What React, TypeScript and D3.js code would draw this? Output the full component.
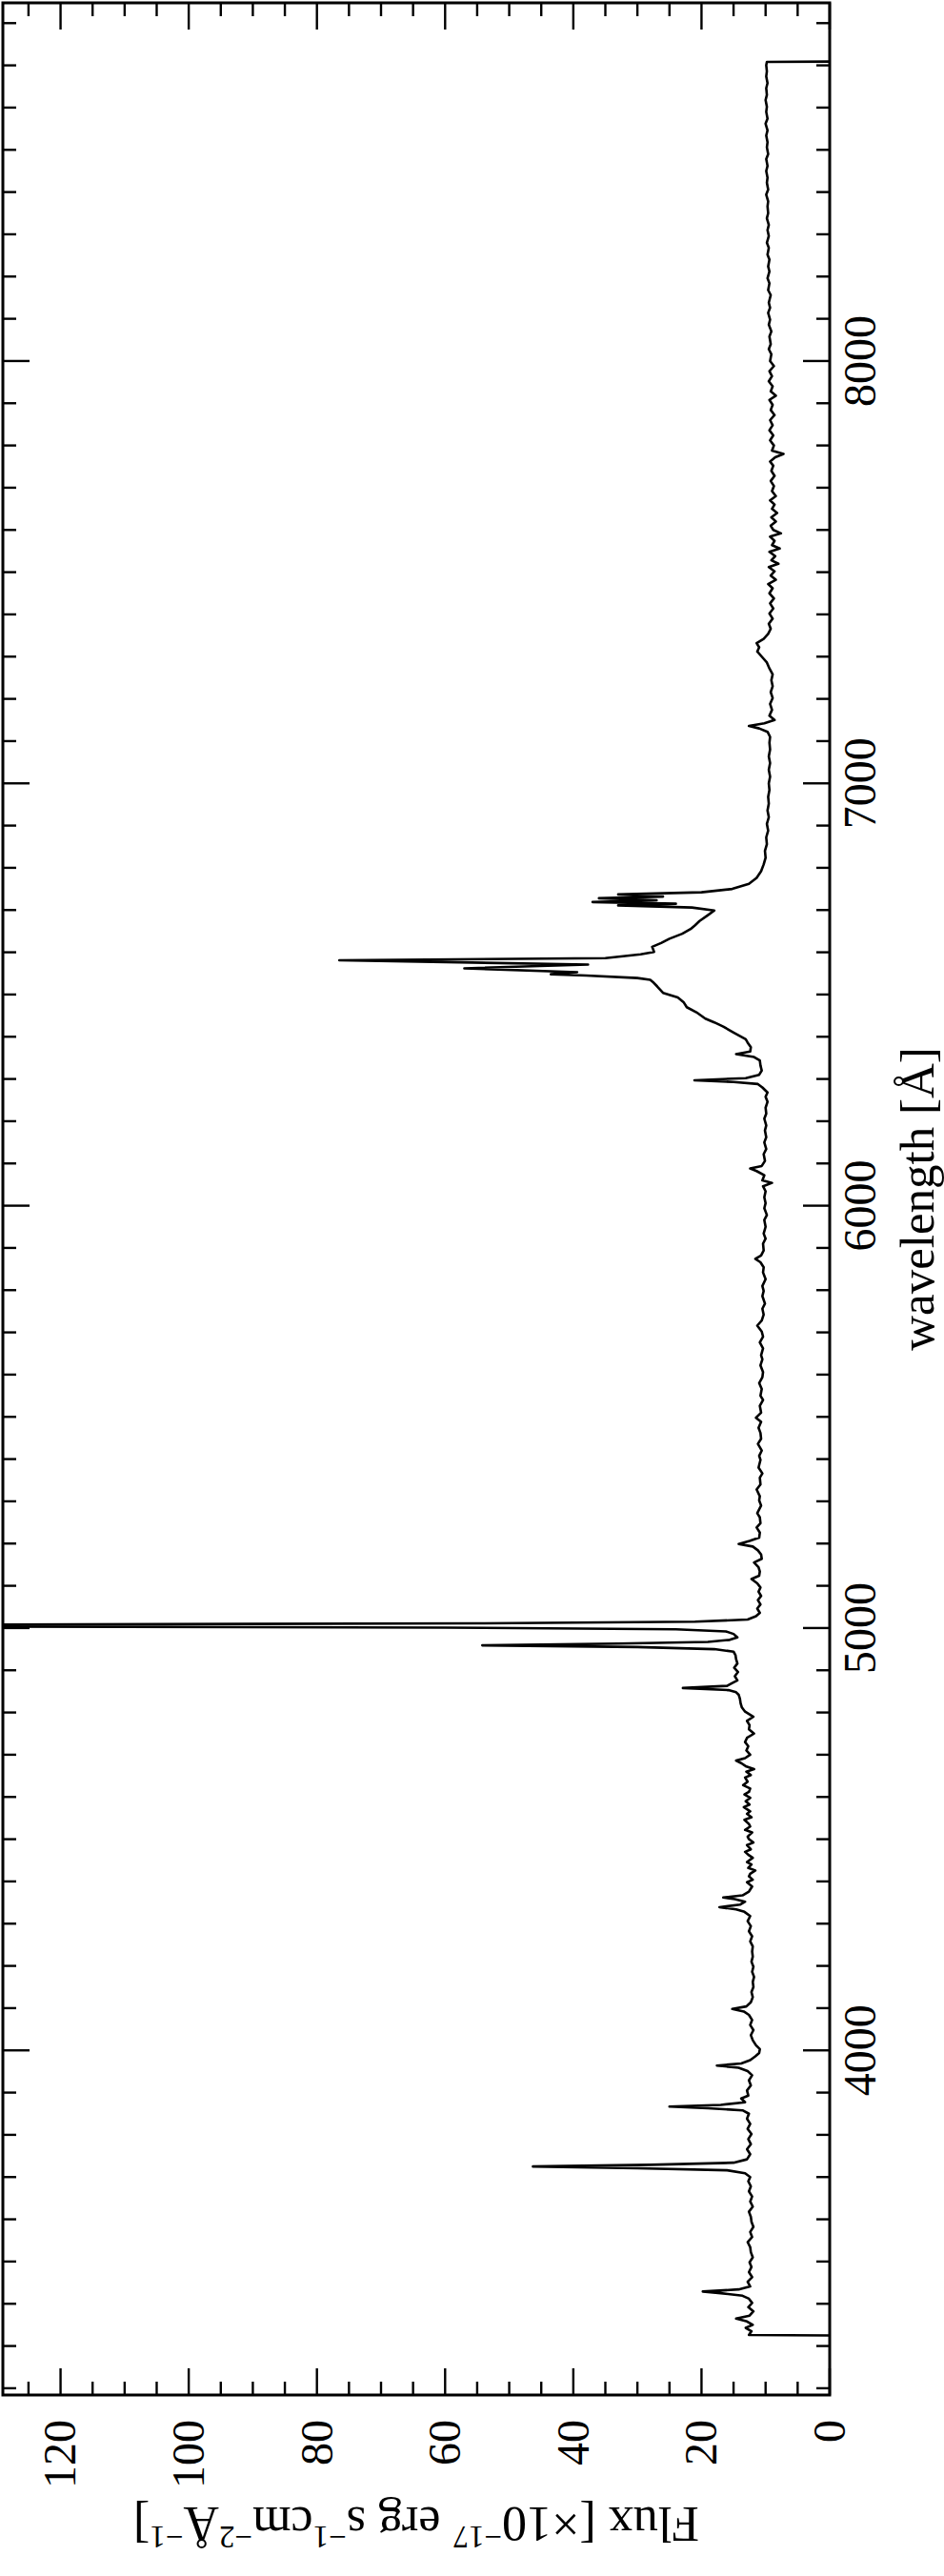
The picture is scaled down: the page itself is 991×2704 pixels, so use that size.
import React from 'react';
import * as d3 from 'd3';

// spectrum, [wavelength (Å), flux (1e-17 erg/s/cm2/Å)]
const uvArm: [number, number][] = [
  [3325, 0], [3326, 12.6], [3335, 12.2], [3343, 13.1], [3350, 12.0], [3358, 12.9], [3365, 14.6],
  [3372, 12.5], [3382, 11.9], [3392, 12.7], [3402, 12.1], [3412, 12.6], [3419, 13.6], [3425, 17.0],
  [3429, 19.8], [3434, 14.2], [3441, 12.4], [3452, 12.8], [3463, 12.1], [3475, 12.6], [3487, 12.2],
  [3498, 12.5], [3510, 12.0], [3522, 12.3], [3534, 12.4], [3546, 12.8], [3558, 12.1], [3570, 12.4],
  [3582, 11.9], [3594, 12.2], [3606, 12.3], [3618, 12.6], [3630, 12.0], [3642, 12.4], [3654, 12.1],
  [3666, 12.6], [3678, 12.3], [3690, 12.7], [3700, 12.4], [3709, 13.2], [3716, 16.0], [3721, 30.0],
  [3725, 46.3], [3729, 28.0], [3734, 15.0], [3742, 12.9], [3754, 12.4], [3766, 12.9], [3778, 12.3],
  [3790, 12.7], [3802, 12.2], [3814, 12.8], [3826, 12.4], [3838, 12.9], [3850, 12.6], [3858, 13.6],
  [3863, 19.0], [3867, 25.0], [3871, 17.0], [3877, 13.2], [3886, 13.8], [3893, 12.7], [3905, 12.9],
  [3917, 12.3], [3929, 12.6], [3941, 12.1], [3951, 12.8], [3959, 14.2], [3964, 17.6], [3969, 13.8],
  [3977, 12.4], [3986, 11.6], [3994, 11.0], [4003, 10.9],
];

const blueArm: [number, number][] = [
  [4012, 11.5], [4024, 12.0], [4036, 12.3], [4048, 11.9], [4060, 12.4], [4072, 12.1], [4084, 12.6],
  [4092, 13.4], [4098, 15.2], [4104, 13.0], [4114, 12.3], [4126, 12.0], [4138, 12.2], [4150, 11.9],
  [4162, 12.0], [4174, 11.8], [4186, 12.1], [4198, 11.9], [4210, 12.2], [4222, 12.0], [4234, 12.1],
  [4246, 12.0], [4258, 12.4], [4270, 12.1], [4282, 12.6], [4294, 12.3], [4306, 12.8], [4318, 12.4],
  [4328, 13.3], [4334, 14.6], [4339, 17.2], [4345, 14.0], [4352, 13.2], [4358, 14.8], [4362, 16.6],
  [4367, 13.6], [4376, 12.6], [4388, 12.1], [4398, 12.9], [4404, 12.0], [4412, 12.6], [4418, 12.4],
  [4426, 11.6], [4432, 12.7], [4440, 12.2], [4446, 12.9], [4456, 12.0], [4462, 12.6], [4470, 13.2],
  [4476, 12.3], [4486, 12.9], [4492, 11.9], [4500, 12.6], [4506, 12.8], [4516, 12.1], [4522, 13.2],
  [4530, 12.4], [4536, 12.6], [4546, 13.3], [4552, 12.2], [4560, 12.9], [4566, 12.4], [4576, 13.4],
  [4582, 12.5], [4590, 13.1], [4598, 12.4], [4606, 13.3], [4612, 12.6], [4620, 12.4], [4628, 13.5],
  [4636, 12.8], [4646, 13.2], [4652, 12.3], [4660, 13.0], [4666, 11.8], [4672, 13.0], [4680, 13.8],
  [4686, 14.6], [4692, 13.2], [4700, 12.4], [4710, 13.0], [4720, 12.7], [4730, 13.2], [4740, 12.9],
  [4750, 11.8], [4760, 12.6], [4770, 12.5], [4780, 12.9], [4790, 11.9], [4802, 13.2], [4812, 13.7],
  [4822, 13.9], [4832, 14.0], [4842, 14.2], [4848, 14.6], [4853, 15.8], [4858, 22.9], [4863, 16.0],
  [4868, 15.4], [4876, 14.4], [4886, 14.8], [4896, 14.3], [4906, 14.9], [4916, 14.4], [4926, 14.6],
  [4936, 14.7], [4944, 15.0], [4950, 18.0], [4955, 30.0], [4959, 54.2], [4963, 33.0], [4967, 19.0],
  [4972, 15.6], [4978, 14.4], [4986, 15.0], [4992, 16.2], [4997, 24.0], [5001, 60.0], [5004, 140.0],
  [5006, 170.0], [5008, 140.0], [5011, 55.0], [5015, 21.0], [5020, 12.8],
];

const greenArm: [number, number][] = [
  [5028, 11.5], [5036, 10.9], [5046, 11.3], [5056, 10.8], [5066, 11.2], [5076, 10.7], [5086, 11.1],
  [5096, 10.8], [5106, 11.3], [5116, 12.2], [5124, 11.0], [5134, 10.9], [5144, 11.1], [5155, 11.8],
  [5164, 10.6], [5174, 10.7], [5184, 11.2], [5193, 12.0], [5199, 14.2], [5206, 12.5], [5214, 11.0],
  [5226, 10.9], [5238, 11.4], [5248, 10.8], [5262, 10.9], [5272, 11.3], [5290, 10.7], [5302, 11.0],
  [5312, 10.9], [5328, 11.4], [5340, 10.8], [5356, 10.9], [5366, 10.5], [5380, 11.1], [5398, 10.8],
  [5408, 11.0], [5420, 10.6], [5436, 11.2], [5448, 10.7], [5462, 10.8], [5474, 11.1], [5488, 10.7],
  [5498, 11.5], [5510, 10.7], [5526, 10.9], [5540, 10.4], [5550, 10.8], [5566, 10.6], [5580, 11.0],
  [5594, 10.5], [5606, 10.4], [5622, 10.8], [5636, 10.5], [5646, 10.7], [5662, 10.4], [5676, 10.9],
  [5690, 10.4], [5702, 10.6], [5716, 11.3], [5728, 10.6], [5742, 10.3], [5756, 10.5], [5768, 10.1],
  [5786, 10.5], [5798, 10.3], [5810, 10.5], [5826, 10.0], [5842, 10.4], [5854, 10.3], [5866, 10.8],
  [5874, 11.6], [5882, 10.7], [5894, 10.3], [5910, 10.4], [5922, 10.0], [5934, 10.3], [5950, 10.0],
  [5966, 10.2], [5978, 9.8], [5994, 10.2], [6006, 10.0], [6020, 10.2], [6034, 10.0], [6046, 10.4],
  [6054, 9.0], [6060, 10.5], [6072, 10.2], [6082, 11.4], [6088, 12.4], [6094, 10.6], [6106, 10.1],
  [6122, 10.3], [6134, 9.9], [6150, 10.2], [6162, 9.9], [6178, 10.1], [6190, 9.9], [6206, 10.2],
  [6218, 9.9], [6232, 10.0], [6246, 9.7], [6258, 10.0], [6268, 9.7], [6280, 10.5], [6288, 11.2],
  [6293, 15.0], [6297, 21.1], [6302, 13.1], [6310, 11.0], [6320, 10.6], [6332, 10.8], [6344, 10.9],
  [6352, 11.8], [6359, 14.6], [6365, 12.4], [6375, 12.3], [6386, 12.8], [6394, 13.1], [6410, 15.0],
  [6424, 16.6], [6434, 18.0], [6443, 19.4], [6458, 20.8], [6470, 22.3], [6482, 22.8], [6493, 23.7],
  [6504, 26.0], [6519, 26.9], [6530, 27.6], [6535, 28.0],
];

const redArm: [number, number][] = [
  [6539, 30.0], [6545, 38.0], [6548, 43.5], [6553, 39.4], [6562, 57.0], [6571, 37.7], [6581, 76.5],
  [6586, 35.0], [6595, 29.5], [6601, 27.4], [6613, 27.7], [6622, 26.3], [6632, 25.0], [6644, 23.0],
  [6655, 21.7], [6664, 21.0], [6674, 20.3], [6688, 19.0], [6699, 18.0], [6706, 21.5], [6711, 33.0],
  [6715, 24.0], [6719, 37.0], [6723, 27.0], [6728, 36.0], [6732, 26.0], [6737, 33.0], [6742, 20.0],
  [6750, 15.2], [6762, 12.6], [6776, 11.4], [6792, 10.7], [6808, 10.3], [6824, 10.0], [6840, 10.1],
  [6856, 9.8], [6872, 9.9], [6888, 9.6], [6904, 9.8], [6920, 9.5], [6936, 9.7], [6952, 9.5],
  [6968, 9.6], [6984, 9.4], [7000, 9.5], [7016, 9.3], [7032, 9.5], [7048, 9.3], [7064, 9.5],
  [7080, 9.3], [7096, 9.4], [7110, 9.3], [7122, 9.7], [7130, 11.0], [7136, 12.6], [7142, 10.2],
  [7150, 8.6], [7160, 9.4], [7174, 9.0], [7188, 9.3], [7202, 8.9], [7216, 9.2], [7230, 8.9],
  [7244, 9.1], [7258, 8.9], [7272, 9.4], [7286, 9.8], [7300, 10.6], [7312, 11.3], [7322, 11.0],
  [7332, 11.4], [7342, 10.3], [7354, 9.6], [7366, 9.2], [7378, 9.5], [7390, 8.9], [7402, 9.4],
  [7414, 8.8], [7426, 9.3], [7438, 8.7], [7450, 9.4], [7462, 8.9], [7472, 9.6], [7482, 8.4],
  [7492, 9.2], [7502, 8.6], [7512, 9.5], [7520, 8.0], [7528, 9.1], [7538, 8.5], [7548, 9.4],
  [7556, 7.8], [7564, 9.0], [7574, 8.6], [7584, 9.3], [7592, 7.6], [7600, 8.8], [7610, 9.2],
  [7620, 8.4], [7630, 9.1], [7640, 8.2], [7650, 9.0], [7660, 8.6], [7670, 9.3], [7680, 8.4],
  [7692, 9.0], [7704, 8.7], [7716, 9.2], [7728, 8.6], [7740, 9.1], [7752, 8.8], [7762, 9.3],
  [7772, 8.5], [7780, 7.2], [7788, 9.0], [7800, 8.7], [7812, 9.3], [7824, 8.8], [7836, 9.4],
  [7848, 8.9], [7860, 9.3], [7872, 8.6], [7884, 9.2], [7896, 8.9], [7908, 9.4], [7918, 8.4],
  [7928, 9.2], [7940, 8.9], [7952, 9.5], [7964, 9.0], [7976, 9.4], [7988, 8.7], [8000, 9.3],
  [8016, 9.1], [8028, 9.5], [8040, 9.2], [8058, 9.4], [8070, 9.1], [8086, 9.5], [8098, 9.3],
  [8114, 9.6], [8126, 9.3], [8138, 9.5], [8156, 9.2], [8168, 9.6], [8184, 9.4], [8196, 9.7],
  [8212, 9.4], [8224, 9.6], [8240, 9.4], [8252, 9.7], [8268, 9.5], [8280, 9.8], [8296, 9.5],
  [8310, 9.7], [8322, 9.5], [8338, 9.8], [8350, 9.6], [8366, 9.7], [8378, 9.6], [8394, 9.9],
  [8406, 9.6], [8422, 9.8], [8434, 9.7], [8450, 9.9], [8462, 9.7], [8478, 9.9], [8490, 9.6],
  [8506, 9.8], [8518, 9.7], [8534, 9.9], [8546, 9.7], [8562, 10.0], [8574, 9.7], [8590, 9.9],
  [8602, 9.8], [8618, 10.0], [8630, 9.8], [8646, 9.9], [8658, 9.7], [8674, 9.9], [8686, 9.8],
  [8700, 9.9], [8708, 9.8], [8709, 0],
];

const waveLabels = [4000, 5000, 6000, 7000, 8000];
const fluxLabels = [0, 20, 40, 60, 80, 100, 120];

// the plot is drawn landscape, then turned a quarter turn onto the page
const W = 2511;
const H = 868;
const font = '"Liberation Serif", "Times New Roman", serif';

export default function App() {
  const x = d3.scaleLinear().domain([3184, 8848]).range([0, W]);
  const y = d3.scaleLinear().domain([0, 129]).range([H, 0]);

  const spectrum = [...uvArm, ...blueArm, ...greenArm, ...redArm];
  const line = d3
    .line<[number, number]>()
    .x((d) => x(d[0]))
    .y((d) => y(d[1]));

  const waveTicks = d3.range(3200, 8850, 100);
  const fluxTicks = d3.range(0, 130, 5);
  const wlen = (w: number) => (w % 1000 === 0 ? 28 : 14);
  const flen = (f: number) => (f % 20 === 0 ? 28 : 14);

  return (
    <svg
      width={991}
      height={2704}
      style={{ position: 'absolute', left: 0, top: 0, background: '#fff' }}
    >
      <defs>
        <clipPath id="plotArea">
          <rect x={0} y={0} width={W} height={H} />
        </clipPath>
      </defs>
      <g transform="translate(3,2514) rotate(-90)">
        <path
          d={line(spectrum) || ''}
          fill="none"
          stroke="#000"
          strokeWidth={2.6}
          strokeLinejoin="round"
          clipPath="url(#plotArea)"
        />

        <g stroke="#000" strokeWidth={2.4}>
          {waveTicks.map((w) => (
            <g key={'w' + w}>
              <line x1={x(w)} x2={x(w)} y1={H} y2={H - wlen(w)} />
              <line x1={x(w)} x2={x(w)} y1={0} y2={wlen(w)} />
            </g>
          ))}
          {fluxTicks.map((f) => (
            <g key={'f' + f}>
              <line x1={0} x2={flen(f)} y1={y(f)} y2={y(f)} />
              <line x1={W} x2={W - flen(f)} y1={y(f)} y2={y(f)} />
            </g>
          ))}
        </g>
        <rect x={0} y={0} width={W} height={H} fill="none" stroke="#000" strokeWidth={3} />

        <g fontFamily={font} fontSize={48} fill="#000">
          {waveLabels.map((w) => (
            <text key={w} x={x(w)} y={H + 48} textAnchor="middle">
              {w}
            </text>
          ))}
          {fluxLabels.map((f) => (
            <text key={f} x={-26} y={y(f)} dy="0.33em" textAnchor="end">
              {f}
            </text>
          ))}
        </g>

        <text x={W / 2} y={977} fontFamily={font} fontSize={51} textAnchor="middle">
          wavelength [Å]
        </text>

        <text
          transform={`translate(-118,${H / 2}) rotate(-90)`}
          fontFamily={font}
          fontSize={52}
          textAnchor="middle"
        >
          Flux [×10
          <tspan dy={-20} fontSize={33}>−17</tspan>
          <tspan dy={20}> erg s</tspan>
          <tspan dy={-20} fontSize={33}>−1</tspan>
          <tspan dy={20}>cm</tspan>
          <tspan dy={-20} fontSize={33}>−2</tspan>
          <tspan dy={20}>Å</tspan>
          <tspan dy={-20} fontSize={33}>−1</tspan>
          <tspan dy={20}>]</tspan>
        </text>
      </g>
    </svg>
  );
}
